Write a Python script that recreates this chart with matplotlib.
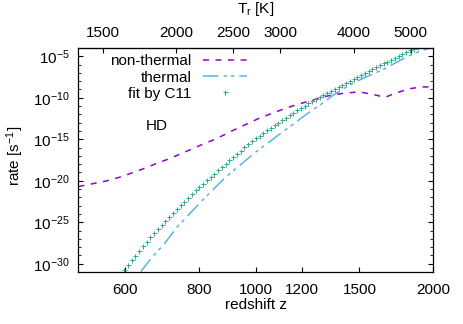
import matplotlib
matplotlib.use("Agg")
import matplotlib.pyplot as plt
import numpy as np
from matplotlib.ticker import NullLocator, NullFormatter

plt.rcParams['font.family'] = ['Liberation Sans', 'DejaVu Sans']
plt.rcParams['mathtext.fontset'] = 'custom'
plt.rcParams['mathtext.rm'] = 'Liberation Sans'
plt.rcParams['mathtext.it'] = 'Liberation Sans:italic'
plt.rcParams['font.size'] = 11

# non-thermal rate (purple dashed)
nt_z = [500, 556, 586, 614, 644, 675, 706, 739, 773, 813, 853, 891, 920, 1015,
        1069, 1120, 1172, 1235, 1301, 1362, 1435, 1502, 1583, 1657, 1735, 1828,
        1914, 2000]
nt_log = [-20.7, -20.05, -19.6, -19.1, -18.56, -17.98, -17.46, -16.88, -16.28,
          -15.6, -15.0, -14.35, -13.85, -12.45, -11.85, -11.3, -10.85, -10.38,
          -9.92, -9.6, -9.4, -9.3, -9.6, -9.95, -9.4, -8.9, -8.7, -8.68]

# thermal rate (blue dash-dot)
th_z = [638, 668, 695, 737, 813, 891, 1002, 1112, 1172, 1235, 1284, 1353, 1445,
        1522, 1646, 1758, 1864, 1977]
th_log = [-30.95, -29.15, -27.85, -25.5, -22.3, -19.5, -16.5, -14.1, -12.9,
          -11.7, -10.9, -9.7, -8.45, -7.65, -6.6, -5.5, -4.6, -4.0]

# fit by C11 (green crosses)
fit_z = [597.6, 606.5, 615.4, 624.6, 633.8, 643.2, 652.7, 662.4, 672.2, 682.2,
         692.3, 702.6, 713.0, 723.5, 734.3, 745.2, 756.2, 767.4, 778.8, 790.3,
         802.0, 813.9, 826.0, 838.2, 850.6, 863.2, 876.0, 889.0, 902.2, 915.6,
         929.1, 942.9, 956.9, 971.1, 985.5, 1000.1, 1014.9, 1029.9, 1045.2, 1060.7,
         1076.4, 1092.3, 1108.5, 1124.9, 1141.6, 1158.5, 1175.7, 1193.1, 1210.8, 1228.8,
         1247.0, 1265.4, 1284.2, 1303.2, 1322.5, 1342.1, 1362.0, 1382.2, 1402.7, 1423.5,
         1444.6, 1466.0, 1487.7, 1509.8, 1532.1, 1554.9, 1577.9, 1601.3, 1625.0, 1649.1,
         1673.5, 1698.3, 1723.5, 1749.0, 1775.0, 1801.3, 1828.0, 1855.0, 1882.5]
fit_log = [-30.70, -30.15, -29.61, -29.04, -28.47, -27.90, -27.35, -26.79, -26.27, -25.80,
           -25.32, -24.84, -24.38, -23.91, -23.45, -22.98, -22.51, -22.05, -21.58, -21.16,
           -20.76, -20.35, -19.95, -19.55, -19.14, -18.74, -18.33, -17.93, -17.54, -17.15,
           -16.75, -16.36, -15.97, -15.58, -15.23, -14.90, -14.58, -14.25, -13.92, -13.60,
           -13.30, -12.99, -12.69, -12.38, -12.08, -11.80, -11.53, -11.25, -10.97, -10.69,
           -10.43, -10.17, -9.91, -9.65, -9.42, -9.18, -8.95, -8.71, -8.48, -8.24,
           -8.01, -7.77, -7.52, -7.28, -7.04, -6.80, -6.55, -6.31, -6.08, -5.86,
           -5.63, -5.40, -5.18, -4.95, -4.73, -4.50, -4.28, -4.08, -3.88]

z_ticks = [600, 800, 1000, 1200, 1500, 2000]
T_ticks = [1500, 2000, 2500, 3000, 4000, 5000]
y_ticks = [-30, -25, -20, -15, -10, -5]

fig = plt.figure(figsize=(4.63, 3.24), dpi=100)
ax = fig.add_axes([0.1695, 0.1605, 0.7657, 0.6914])

ax.plot(nt_z, 10.0 ** np.array(nt_log), color='#9400d3', lw=1.1,
        dashes=(3.9, 4.3), label='non-thermal')
ax.plot(th_z, 10.0 ** np.array(th_log), color='#56b4e9', lw=1.1,
        dashes=(10.2, 3.3, 2.2, 2.6, 2.2, 3.3), label='thermal')
ax.plot(fit_z, 10.0 ** np.array(fit_log), ls='none', marker='+', ms=3.6,
        mew=0.7, color='#2aae88', label='fit by C11')

ax.set_xscale('log')
ax.set_yscale('log')
ax.set_xlim(500, 2000)
ax.set_ylim(1e-31, 1e-4)

ax.set_xticks(z_ticks, labels=[str(v) for v in z_ticks])
ax.xaxis.set_minor_locator(NullLocator())
ax.set_yticks([10.0 ** e for e in y_ticks],
              labels=[r'$\mathregular{10^{%d}}$' % e for e in y_ticks])
ax.set_yticks([10.0 ** e for e in range(-31, -3)], minor=True)
ax.yaxis.set_minor_formatter(NullFormatter())

ax.tick_params(axis='x', which='both', direction='in', top=False, length=3.5, pad=8)
ax.tick_params(axis='y', which='major', direction='in', right=True, length=3.5, pad=6)
ax.tick_params(axis='y', which='minor', direction='in', right=True, length=2)
for s in ax.spines.values():
    s.set_linewidth(0.9)

ax.set_xlabel('redshift z')
ax.xaxis.set_label_coords(0.5, -0.118)
ax.set_ylabel(r'rate [s$^{\mathregular{-1}}$]', va='center')
ax.yaxis.set_label_coords(-0.179, 0.518)

sec = ax.secondary_xaxis('top', functions=(lambda z: 2.725 * (1 + z),
                                           lambda t: t / 2.725 - 1))
sec.set_xticks(T_ticks, labels=[str(v) for v in T_ticks])
sec.xaxis.set_minor_locator(NullLocator())
sec.tick_params(axis='x', direction='in', length=3.5, pad=6)
sec.set_xlabel(r'T$_{\mathregular{r}}$ [K]', labelpad=9)

ax.text(0.2206, 0.653, 'HD', transform=ax.transAxes, ha='center', va='center')

ax.legend(loc='upper right', bbox_to_anchor=(0.475, 0.972), frameon=False,
          markerfirst=False, handlelength=2.9, handletextpad=0.74,
          labelspacing=0.15, borderpad=0, borderaxespad=0, numpoints=1)

fig.savefig('out.png', dpi=100)
